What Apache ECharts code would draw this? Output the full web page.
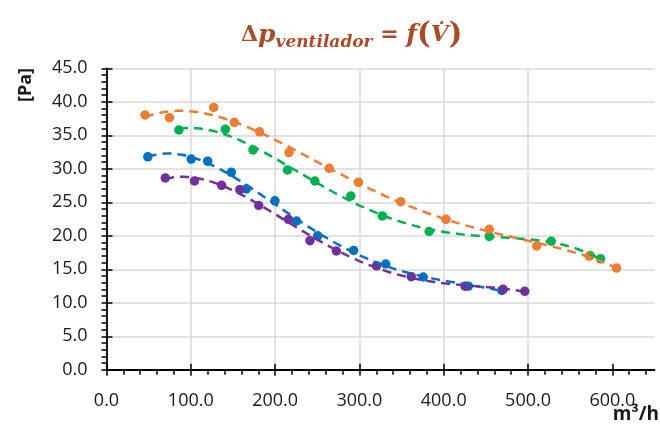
<!DOCTYPE html>
<html><head><meta charset="utf-8">
<script src="https://cdn.jsdelivr.net/npm/echarts@6/dist/echarts.min.js"></script>
<style>html,body{margin:0;padding:0;background:#fff}#c{width:660px;height:427px}</style>
</head><body><div id="c"></div>
<script>
// ---- data (m3/h, Pa) ----
const blueX   = [49.0, 100.5, 120.0, 148.1, 165.8, 199.8, 225.4, 250.5, 293.1, 331.2, 375.7, 429.2, 468.9];
const blueY   = [31.79, 31.46, 31.13, 29.48, 26.99, 25.22, 22.21, 20.00, 17.81, 15.79, 13.85, 12.48, 11.84];
const greenX  = [85.9, 141.0, 173.8, 214.7, 247.2, 289.8, 327.2, 382.7, 454.0, 527.5, 573.6, 586.1];
const greenY  = [35.79, 35.91, 32.81, 29.82, 28.18, 25.94, 22.96, 20.64, 19.91, 19.19, 17.06, 16.57];
const orangeX = [45.7, 74.7, 127.1, 151.6, 181.5, 216.4, 264.1, 298.8, 349.0, 402.6, 454.0, 510.2, 572.7, 605.0];
const orangeY = [38.03, 37.63, 39.15, 36.94, 35.52, 32.43, 30.07, 27.99, 25.09, 22.46, 20.97, 18.48, 16.96, 15.19];
const purpleX = [69.7, 104.3, 136.6, 158.1, 180.6, 215.8, 241.4, 272.7, 320.3, 361.5, 425.4, 470.4, 496.1];
const purpleY = [28.63, 28.18, 27.54, 26.88, 24.52, 22.46, 19.27, 17.73, 15.52, 13.90, 12.48, 12.01, 11.72];
const xTicks = [0, 100, 200, 300, 400, 500, 600];
const yTicks = [0, 5, 10, 15, 20, 25, 30, 35, 40, 45];
const xMax = 650, yMax = 45;

// polynomial least-squares trendline computed from the data
function polyfit(xs, ys, order) {
  const n = order + 1;
  const A = Array.from({length: n}, () => new Array(n + 1).fill(0));
  for (let k = 0; k < xs.length; k++) {
    const t = xs[k] / 100, p = [];
    for (let i = 0; i < n; i++) p.push(Math.pow(t, i));
    for (let i = 0; i < n; i++) { for (let j = 0; j < n; j++) A[i][j] += p[i] * p[j]; A[i][n] += p[i] * ys[k]; }
  }
  for (let i = 0; i < n; i++) {
    let m = i;
    for (let r = i + 1; r < n; r++) if (Math.abs(A[r][i]) > Math.abs(A[m][i])) m = r;
    [A[i], A[m]] = [A[m], A[i]];
    for (let r = 0; r < n; r++) {
      if (r === i) continue;
      const f = A[r][i] / A[i][i];
      for (let c = i; c <= n; c++) A[r][c] -= f * A[i][c];
    }
  }
  const coef = A.map((row, i) => row[n] / row[i]);
  return x => { const t = x / 100; let s = 0; for (let i = n - 1; i >= 0; i--) s = s * t + coef[i]; return s; };
}
function trend(xs, ys, order) {
  const f = polyfit(xs, ys, order);
  const a = Math.min(...xs), b = Math.max(...xs), out = [];
  for (let i = 0; i <= 100; i++) { const x = a + (b - a) * i / 100; out.push([x, f(x)]); }
  return out;
}
const zip = (xs, ys) => xs.map((x, i) => [x, ys[i]]);

const C = {blue: '#0070C0', green: '#00B050', orange: '#ED7D31', purple: '#7030A0'};
const sets = [
  ['blue', blueX, blueY, 4], ['green', greenX, greenY, 4],
  ['orange', orangeX, orangeY, 4], ['purple', purpleX, purpleY, 4]
];
const minorX = []; for (let v = 0; v < xMax; v += 20) minorX.push(v);
const minorY = []; for (let v = 0; v <= yMax; v += 1) minorY.push(v);

const axisCol = '#000';
const labelFont = {fontFamily: 'Open Sans', fontSize: 18, color: '#1a1a1a'};
function xAx(extra) {
  return Object.assign({type: 'value', min: 0, max: xMax, position: 'bottom', offset: 0,
    axisLine: {show: false}, axisLabel: {show: false}, splitLine: {show: false},
    axisTick: {show: false}}, extra);
}
function yAx(extra) {
  return Object.assign({type: 'value', min: 0, max: yMax, position: 'left', offset: 0,
    axisLine: {show: false}, axisLabel: {show: false}, splitLine: {show: false},
    axisTick: {show: false}}, extra);
}

const series = [];
sets.forEach(([name, xs, ys]) => series.push({
  type: 'scatter', name, data: zip(xs, ys), symbol: 'circle', symbolSize: 9.5,
  itemStyle: {color: C[name], opacity: 1}, z: 2, silent: true
}));
sets.forEach(([name, xs, ys, ord]) => series.push({
  type: 'line', name: name + ' trend', data: trend(xs, ys, ord), showSymbol: false, symbol: 'none',
  lineStyle: {color: C[name], width: 2.5, type: [9, 6]}, z: 3, silent: true, smooth: false
}));

const T = '#AD4A26';
const chart = echarts.init(document.getElementById('c'), null, {renderer: 'canvas'});
chart.setOption({
  animation: false,
  backgroundColor: '#fff',
  title: {
    left: 241, top: 19, padding: 0,
    text: '{d|Δ}{p|p}{s|ventilador}{e| = }{f|f}{b|(}{v|V̇}{b|)}',
    textStyle: {
      rich: {
        d: {fontFamily: 'DejaVu Serif', fontWeight: 'bold', fontSize: 22, color: T, lineHeight: 32},
        p: {fontFamily: 'DejaVu Serif', fontWeight: 'bold', fontStyle: 'italic', fontSize: 25, color: T, lineHeight: 32},
        s: {fontFamily: 'DejaVu Serif', fontWeight: 'bold', fontStyle: 'italic', fontSize: 17, color: T, lineHeight: 20, verticalAlign: 'bottom'},
        e: {fontFamily: 'DejaVu Serif', fontWeight: 'bold', fontSize: 22, color: T, lineHeight: 32},
        f: {fontFamily: 'DejaVu Serif', fontWeight: 'bold', fontStyle: 'italic', fontSize: 25, color: T, lineHeight: 32},
        b: {fontFamily: 'DejaVu Serif', fontSize: 29, color: T, lineHeight: 32},
        v: {fontFamily: 'DejaVu Serif', fontWeight: 'bold', fontStyle: 'italic', fontSize: 23, color: T, lineHeight: 32}
      }
    }
  },
  grid: {left: 106.5, right: 5.5, top: 68.3, bottom: 57.2, containLabel: false},
  xAxis: [
    xAx({
      axisLine: {show: true, lineStyle: {color: axisCol, width: 1.8}},
      axisTick: {show: true, inside: false, length: 6, customValues: xTicks, lineStyle: {color: axisCol, width: 1.5}},
      axisLabel: Object.assign({show: true, margin: 22, customValues: xTicks, formatter: v => v.toFixed(1)}, labelFont),
      splitLine: {show: true, showMaxLine: false, lineStyle: {color: '#D9D9D9', width: 1.5}}
    }),
    xAx({axisTick: {show: true, inside: false, length: 5, customValues: minorX, lineStyle: {color: axisCol, width: 1.5}}}),
    xAx({axisTick: {show: true, inside: true, length: 6, customValues: xTicks, lineStyle: {color: axisCol, width: 1.5}}})
  ],
  yAxis: [
    yAx({
      axisLine: {show: true, lineStyle: {color: axisCol, width: 1.8}},
      axisTick: {show: true, inside: false, length: 4, customValues: yTicks, lineStyle: {color: axisCol, width: 1.5}},
      axisLabel: Object.assign({show: true, margin: 19, customValues: yTicks, formatter: v => v.toFixed(1)}, labelFont),
      splitLine: {show: true, lineStyle: {color: '#D9D9D9', width: 1.5}}
    }),
    yAx({axisTick: {show: true, inside: false, length: 5, customValues: minorY, lineStyle: {color: axisCol, width: 1.5}}}),
    yAx({axisTick: {show: true, inside: true, length: 6, customValues: yTicks, lineStyle: {color: axisCol, width: 1.5}}})
  ],
  graphic: [
    {type: 'text', x: 25.5, y: 85, rotation: Math.PI / 2,
     style: {text: '[Pa]', fontFamily: 'Open Sans', fontWeight: 'bold', fontSize: 18, fill: '#1a1a1a', align: 'center', verticalAlign: 'middle'}},
    {type: 'text', x: 659, y: 415,
     style: {text: 'm³/h', fontFamily: 'Open Sans', fontWeight: 'bold', fontSize: 19, fill: '#1a1a1a', align: 'right', verticalAlign: 'middle'}}
  ],
  series
});
</script></body></html>
